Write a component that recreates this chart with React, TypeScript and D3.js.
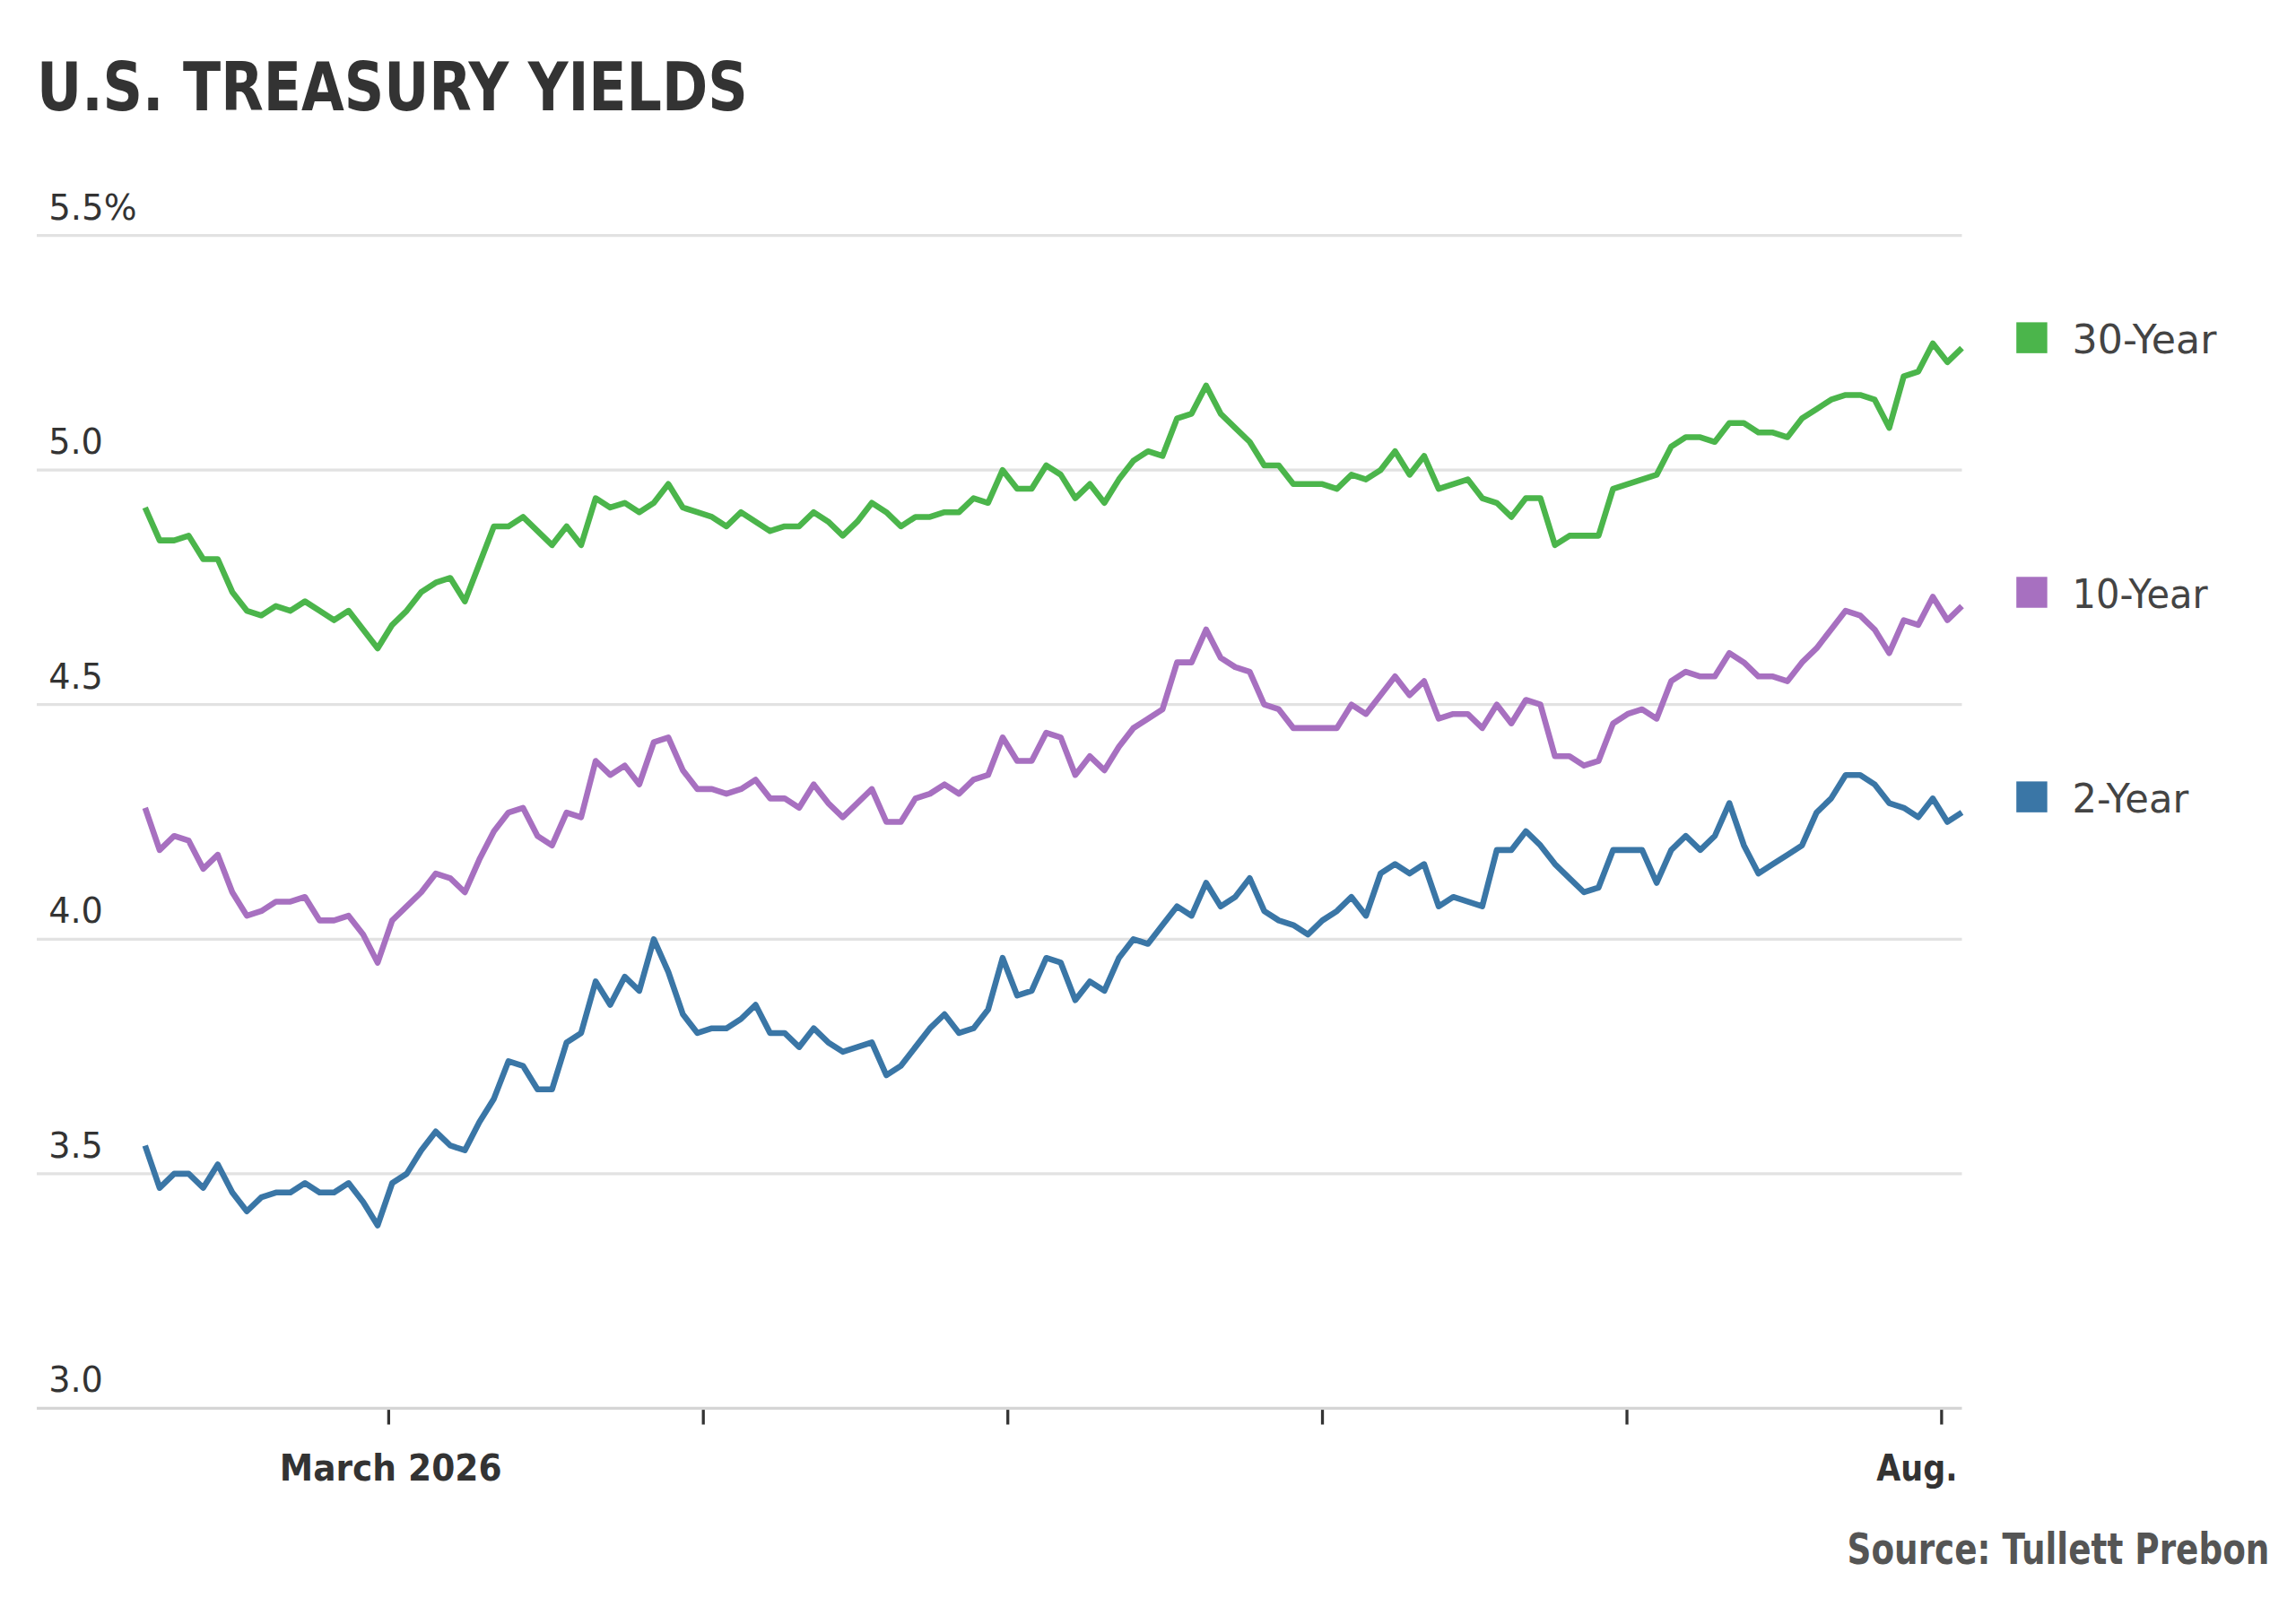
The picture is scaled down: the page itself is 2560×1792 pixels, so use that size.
import * as d3 from "d3";

const Y30 = [4.92,4.85,4.85,4.86,4.81,4.81,4.74,4.70,4.69,4.71,4.70,4.72,4.70,4.68,4.70,4.66,4.62,4.67,4.70,4.74,4.76,4.77,4.72,4.80,4.88,4.88,4.90,4.87,4.84,4.88,4.84,4.94,4.92,4.93,4.91,4.93,4.97,4.92,4.91,4.90,4.88,4.91,4.89,4.87,4.88,4.88,4.91,4.89,4.86,4.89,4.93,4.91,4.88,4.90,4.90,4.91,4.91,4.94,4.93,5.00,4.96,4.96,5.01,4.99,4.94,4.97,4.93,4.98,5.02,5.04,5.03,5.11,5.12,5.18,5.12,5.09,5.06,5.01,5.01,4.97,4.97,4.97,4.96,4.99,4.98,5.00,5.04,4.99,5.03,4.96,4.97,4.98,4.94,4.93,4.90,4.94,4.94,4.84,4.86,4.86,4.86,4.96,4.97,4.98,4.99,5.05,5.07,5.07,5.06,5.10,5.10,5.08,5.08,5.07,5.11,5.13,5.15,5.16,5.16,5.15,5.09,5.20,5.21,5.27,5.23,5.26];
const Y10 = [4.28,4.19,4.22,4.21,4.15,4.18,4.10,4.05,4.06,4.08,4.08,4.09,4.04,4.04,4.05,4.01,3.95,4.04,4.07,4.10,4.14,4.13,4.10,4.17,4.23,4.27,4.28,4.22,4.20,4.27,4.26,4.38,4.35,4.37,4.33,4.42,4.43,4.36,4.32,4.32,4.31,4.32,4.34,4.30,4.30,4.28,4.33,4.29,4.26,4.29,4.32,4.25,4.25,4.30,4.31,4.33,4.31,4.34,4.35,4.43,4.38,4.38,4.44,4.43,4.35,4.39,4.36,4.41,4.45,4.47,4.49,4.59,4.59,4.66,4.60,4.58,4.57,4.50,4.49,4.45,4.45,4.45,4.45,4.50,4.48,4.52,4.56,4.52,4.55,4.47,4.48,4.48,4.45,4.50,4.46,4.51,4.50,4.39,4.39,4.37,4.38,4.46,4.48,4.49,4.47,4.55,4.57,4.56,4.56,4.61,4.59,4.56,4.56,4.55,4.59,4.62,4.66,4.70,4.69,4.66,4.61,4.68,4.67,4.73,4.68,4.71];
const Y2 = [3.56,3.47,3.50,3.50,3.47,3.52,3.46,3.42,3.45,3.46,3.46,3.48,3.46,3.46,3.48,3.44,3.39,3.48,3.50,3.55,3.59,3.56,3.55,3.61,3.66,3.74,3.73,3.68,3.68,3.78,3.80,3.91,3.86,3.92,3.89,4.00,3.93,3.84,3.80,3.81,3.81,3.83,3.86,3.80,3.80,3.77,3.81,3.78,3.76,3.77,3.78,3.71,3.73,3.77,3.81,3.84,3.80,3.81,3.85,3.96,3.88,3.89,3.96,3.95,3.87,3.91,3.89,3.96,4.00,3.99,4.03,4.07,4.05,4.12,4.07,4.09,4.13,4.06,4.04,4.03,4.01,4.04,4.06,4.09,4.05,4.14,4.16,4.14,4.16,4.07,4.09,4.08,4.07,4.19,4.19,4.23,4.20,4.16,4.13,4.10,4.11,4.19,4.19,4.19,4.12,4.19,4.22,4.19,4.22,4.29,4.20,4.14,4.16,4.18,4.20,4.27,4.30,4.35,4.35,4.33,4.29,4.28,4.26,4.30,4.25,4.27];

const SERIES = [
  { name: "30-Year", values: Y30, color: "#4bb54b", legendY: 230 },
  { name: "10-Year", values: Y10, color: "#a770c0", legendY: 403 },
  { name: "2-Year", values: Y2, color: "#3a76a6", legendY: 542 },
];
const Y_TICKS = [3.0, 3.5, 4.0, 4.5, 5.0, 5.5];
// tick positions in the original follow trading days, not calendar days
const MONTH_TICKS = ["2026-03-01", "2026-04-01", "2026-05-01", "2026-06-01", "2026-07-01", "2026-08-01"];
const START = new Date(2026, 1, 5);
const END = new Date(2026, 7, 3);

const W = 1560;
const H = 1092;
const FONT = "'DejaVu Sans', sans-serif";

// the original uses a condensed face; squeeze DejaVu to the measured widths
const fit = (w: number) => ({ textLength: w, lengthAdjust: "spacingAndGlyphs" as const });

export default function App() {
  const x = d3.scaleTime().domain([new Date(2026, 1, 1), END]).range([71, 1333]);
  const y = d3.scaleLinear().domain([3.0, 5.5]).range([957, 160]);
  const n = d3.min(SERIES, (s) => s.values.length)!;
  const dates = d3.range(n).map((i) => new Date(+START + (i * (+END - +START)) / (n - 1)));
  const line = d3
    .line<number>()
    .x((_, i) => x(dates[i]))
    .y((d) => y(d));

  return (
    <svg
      width={2560}
      height={1792}
      viewBox={`0 0 ${W} ${H}`}
      style={{ position: "absolute", left: 0, top: 0, background: "#fff" }}
    >
      <text x={25} y={75} fontFamily={FONT} fontWeight="bold" fontSize={46} fill="#333" {...fit(483)}>
        U.S. TREASURY YIELDS
      </text>

      {Y_TICKS.map((t) => (
        <line key={t} x1={25} x2={1333} y1={y(t)} y2={y(t)} stroke={t === 3.0 ? "#d5d5d5" : "#e2e2e2"} strokeWidth={2} />
      ))}
      <g fontFamily={FONT} fontSize={24} fill="#333">
        {Y_TICKS.map((t) => (
          <text key={t} x={33} y={y(t) - 11} {...fit(t === 5.5 ? 60 : 37)}>
            {t === 5.5 ? "5.5%" : t.toFixed(1)}
          </text>
        ))}
      </g>

      <g stroke="#333" strokeWidth={2}>
        {MONTH_TICKS.map((m) => {
          const xx = x(d3.isoParse(m)!);
          return <line key={m} x1={xx} x2={xx} y1={958} y2={968} />;
        })}
      </g>
      <g fontFamily={FONT} fontSize={25} fontWeight="bold" fill="#333">
        <text x={190} y={1006} {...fit(151)}>
          March 2026
        </text>
        <text x={1275} y={1006} {...fit(55)}>
          Aug.
        </text>
      </g>

      {SERIES.map((s) => (
        <path
          key={s.name}
          d={line(s.values.slice(0, n)) ?? ""}
          fill="none"
          stroke={s.color}
          strokeWidth={4}
          strokeLinejoin="round"
        />
      ))}

      {SERIES.map((s, i) => (
        <g key={s.name}>
          <rect x={1370} y={s.legendY - 11} width={21} height={21} fill={s.color} />
          <text x={1408} y={s.legendY + 10} fontFamily={FONT} fontSize={27} fill="#444" {...fit([98, 92, 79][i])}>
            {s.name}
          </text>
        </g>
      ))}

      <text x={1255} y={1063} fontFamily={FONT} fontWeight="bold" fontSize={29} fill="#555" {...fit(287)}>
        Source: Tullett Prebon
      </text>
    </svg>
  );
}
